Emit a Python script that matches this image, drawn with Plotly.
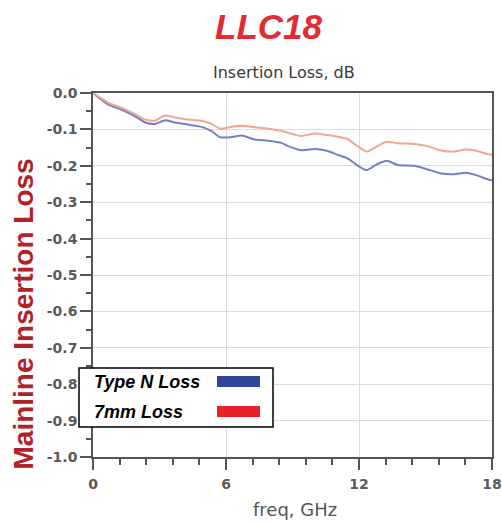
import plotly.graph_objects as go

# ---- data ----
freq_ghz = [0, 0.1, 0.7, 1.3, 1.9, 2.35, 2.8, 3.25, 3.7, 4.3, 4.9, 5.35, 5.75, 6.25, 6.7,
            7.3, 7.9, 8.5, 8.8, 9.4, 10.0, 10.5, 11.05, 11.5, 11.95, 12.35, 12.8, 13.25,
            13.75, 14.5, 15.1, 15.7, 16.3, 16.8, 17.25, 17.8, 18.0]
type_n_loss = [0, -0.005, -0.032, -0.046, -0.064, -0.081, -0.085, -0.075, -0.081, -0.087,
               -0.093, -0.105, -0.122, -0.121, -0.117, -0.128, -0.131, -0.137, -0.146, -0.157,
               -0.154, -0.158, -0.170, -0.180, -0.200, -0.212, -0.196, -0.186, -0.198, -0.200,
               -0.210, -0.221, -0.223, -0.219, -0.225, -0.237, -0.240]
mm7_loss = [0, -0.004, -0.027, -0.041, -0.058, -0.073, -0.076, -0.062, -0.067, -0.073,
            -0.076, -0.085, -0.098, -0.093, -0.090, -0.094, -0.098, -0.104, -0.109, -0.118,
            -0.111, -0.115, -0.120, -0.127, -0.147, -0.161, -0.147, -0.134, -0.138, -0.140,
            -0.146, -0.158, -0.161, -0.155, -0.158, -0.168, -0.170]
series_names = ["Type N Loss", "7mm Loss"]

x_tickvals = [0, 6, 12, 18]
x_ticktext = ["0", "6", "12", "18"]
y_tickvals = [0.0, -0.1, -0.2, -0.3, -0.4, -0.5, -0.6, -0.7, -0.8, -0.9, -1.0]
y_ticktext = ["0.0", "-0.1", "-0.2", "-0.3", "-0.4", "-0.5", "-0.6", "-0.7", "-0.8", "-0.9", "-1.0"]

W, H = 502, 523
ML, MR, MT, MB = 93, 10, 93, 66
PW, PH = W - ML - MR, H - MT - MB


def px(x):
    return (x - ML) / PW


def py(y):
    return (H - MB - y) / PH


line_blue = "#7580C2"
line_red = "#F2A68E"
leg_blue = "#2F4699"
leg_red = "#E8202A"
font = "Liberation Sans, Arial, sans-serif"
font_wide = "DejaVu Sans, Verdana, sans-serif"

fig = go.Figure()
fig.add_trace(go.Scatter(x=freq_ghz, y=type_n_loss, mode="lines", name=series_names[0],
                         line=dict(color=line_blue, width=2, shape="spline", smoothing=0.6)))
fig.add_trace(go.Scatter(x=freq_ghz, y=mm7_loss, mode="lines", name=series_names[1],
                         line=dict(color=line_red, width=2, shape="spline", smoothing=0.6)))

axis_common = dict(showline=True, linecolor="#555555", linewidth=1.5, mirror=True,
                   ticks="outside", ticklen=11, tickwidth=1.5, tickcolor="#555555",
                   showgrid=True, gridcolor="#DCDCDC", gridwidth=1.2, zeroline=False,
                   automargin=False,
                   tickfont=dict(family=font_wide, size=14, color="#5A5A5A", weight="bold"))

fig.update_xaxes(range=[0, 18], tickmode="array", tickvals=x_tickvals, ticktext=x_ticktext,
                 minor=dict(dtick=1.2, tick0=0, ticks="outside", ticklen=6, tickcolor="#555555",
                            tickwidth=1.5, showgrid=False),
                 ticklabelstandoff=2, **axis_common)
fig.update_yaxes(range=[-1.0, 0.0], tickmode="array", tickvals=y_tickvals, ticktext=y_ticktext,
                 minor=dict(dtick=0.05, tick0=0, ticks="outside", ticklen=5, tickcolor="#555555",
                            tickwidth=1.5, showgrid=False),
                 **axis_common)

annotations = [
    dict(text="LLC18", x=px(269), y=py(27), font=dict(family=font, size=35, color="#E42A33",
                                                      weight="bold", style="italic")),
    dict(text="Insertion Loss, dB", x=px(284), y=py(72), font=dict(family=font_wide, size=16, color="#3A3A3A")),
    dict(text="freq, GHz", x=px(295), y=py(509), font=dict(family=font_wide, size=18, color="#555555")),
    dict(text="Mainline Insertion Loss", x=px(22.5), y=py(314), textangle=-90,
         font=dict(family=font, size=28, color="#B02128", weight="bold")),
    dict(text=series_names[0], x=px(92), y=py(381.7), xanchor="left",
         font=dict(family=font, size=18, color="#000000", weight="bold", style="italic")),
    dict(text=series_names[1], x=px(92), y=py(411.7), xanchor="left",
         font=dict(family=font, size=18, color="#000000", weight="bold", style="italic")),
]
for a in annotations:
    a.setdefault("xanchor", "center")
    a.update(xref="paper", yref="paper", yanchor="middle", showarrow=False)

shapes = [
    dict(type="rect", xref="paper", yref="paper", x0=px(79), x1=px(273), y0=py(427), y1=py(368),
         fillcolor="white", line=dict(color="#000000", width=1.5), layer="above"),
    dict(type="rect", xref="paper", yref="paper", x0=px(217), x1=px(260), y0=py(387), y1=py(376),
         fillcolor=leg_blue, line=dict(width=0), layer="above"),
    dict(type="rect", xref="paper", yref="paper", x0=px(217), x1=px(260), y0=py(417), y1=py(406),
         fillcolor=leg_red, line=dict(width=0), layer="above"),
]

fig.update_layout(width=W, height=H, autosize=False,
                  margin=dict(l=ML, r=MR, t=MT, b=MB, pad=0, autoexpand=False),
                  paper_bgcolor="white", plot_bgcolor="white",
                  showlegend=False, annotations=annotations, shapes=shapes)

fig.write_html("out.html",
               config={"responsive": False, "displayModeBar": False},
               post_script="document.body.style.margin='0';document.body.style.overflow='hidden';")
